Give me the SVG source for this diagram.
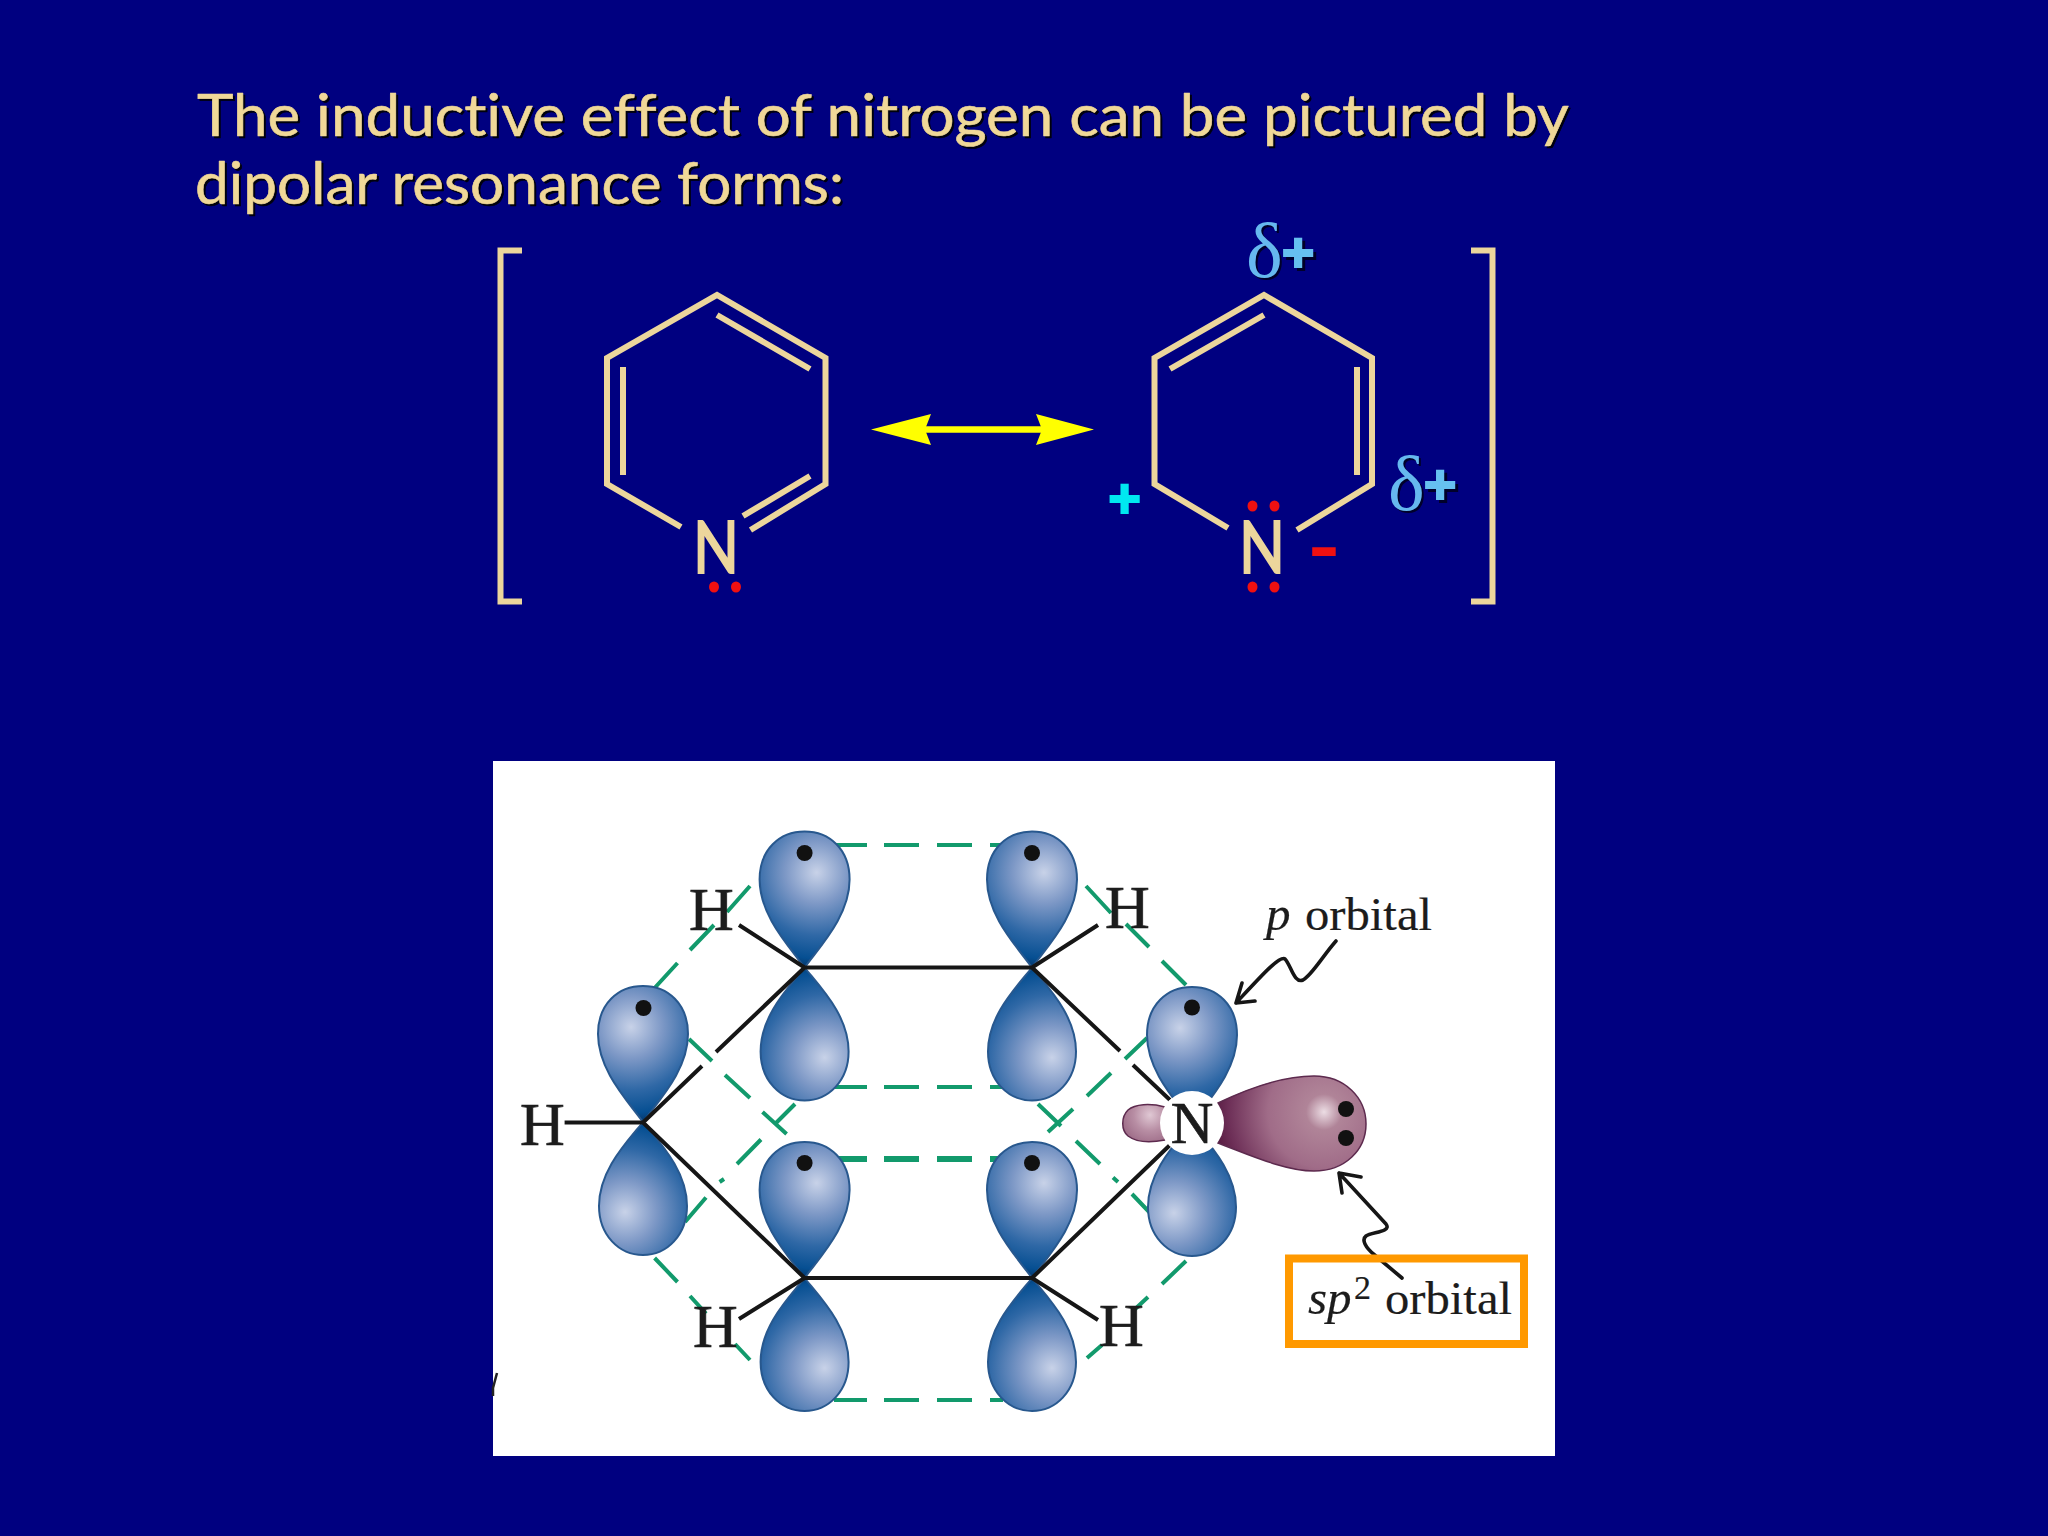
<svg xmlns="http://www.w3.org/2000/svg" xmlns:xlink="http://www.w3.org/1999/xlink" width="2048" height="1536" viewBox="0 0 2048 1536">
<style>
.ring{fill:none;stroke:#ecd69c;stroke-width:6;stroke-linecap:butt;stroke-linejoin:miter}
.title{font-family:"Lato","Noto Sans",sans-serif;font-size:58px;fill:#f0d898;stroke:#f0d898;stroke-width:.6;stroke-linejoin:round;font-variant-ligatures:none}
.tshadow{fill:#000;stroke:#000;opacity:.9}
.atom{font-family:"Lato","Liberation Sans",sans-serif;font-size:72px;fill:#ecd69c;stroke:#ecd69c;stroke-width:2}
.delta{font-family:"Liberation Serif",serif;font-size:78px;fill:#66b8ef}
.dshadow{fill:#00002a}
.plus{font-family:"Liberation Sans",sans-serif;font-weight:bold;font-size:56px;text-anchor:middle;stroke-width:2}
.lp{fill:#f01010}
.dash{fill:none;stroke:#129a6c;stroke-width:4}
.bond{fill:none;stroke:#161616;stroke-width:4}
.squig{fill:none;stroke:#161616;stroke-width:3.600;stroke-linecap:round;stroke-linejoin:round}
.el{fill:#111}
.lab{font-family:"Liberation Serif",serif;fill:#1c1c1c;stroke:#1c1c1c;stroke-width:.7}
.lobe{stroke:#28588e;stroke-width:2}
</style>
<defs>
<radialGradient id="upR" gradientUnits="userSpaceOnUse" cx="12" cy="-95" r="105"><stop offset="0" stop-color="#c8d2e8"/><stop offset=".3" stop-color="#7d98c6"/><stop offset=".6" stop-color="#2f68a6"/><stop offset=".82" stop-color="#064f92"/><stop offset="1" stop-color="#041f44"/></radialGradient>
<radialGradient id="upL" gradientUnits="userSpaceOnUse" cx="-12" cy="-95" r="105"><stop offset="0" stop-color="#c8d2e8"/><stop offset=".3" stop-color="#7d98c6"/><stop offset=".6" stop-color="#2f68a6"/><stop offset=".82" stop-color="#064f92"/><stop offset="1" stop-color="#041f44"/></radialGradient>
<radialGradient id="dnR" gradientUnits="userSpaceOnUse" cx="20" cy="90" r="105"><stop offset="0" stop-color="#c8d2e8"/><stop offset=".3" stop-color="#7d98c6"/><stop offset=".6" stop-color="#2f68a6"/><stop offset=".82" stop-color="#064f92"/><stop offset="1" stop-color="#041f44"/></radialGradient>
<radialGradient id="dnL" gradientUnits="userSpaceOnUse" cx="-18" cy="90" r="105"><stop offset="0" stop-color="#c8d2e8"/><stop offset=".3" stop-color="#7d98c6"/><stop offset=".6" stop-color="#2f68a6"/><stop offset=".82" stop-color="#064f92"/><stop offset="1" stop-color="#041f44"/></radialGradient>
<radialGradient id="big" gradientUnits="userSpaceOnUse" cx="1324" cy="1112" r="112"><stop offset="0" stop-color="#ecdde4"/><stop offset=".16" stop-color="#b08498"/><stop offset=".5" stop-color="#a06c88"/><stop offset=".85" stop-color="#6e3058"/><stop offset="1" stop-color="#55193f"/></radialGradient>
<radialGradient id="small" gradientUnits="userSpaceOnUse" cx="1150" cy="1115" r="32"><stop offset="0" stop-color="#e0c8d4"/><stop offset=".5" stop-color="#b88ea4"/><stop offset="1" stop-color="#9a6884"/></radialGradient>
<path id="up" class="lobe" d="M0,0C-16,-22 -45,-52 -45,-88C-45,-118 -25,-136 0,-136C25,-136 45,-118 45,-88C45,-52 16,-22 0,0Z"/>
<path id="dn" class="lobe" d="M0,0C16,20 44,48 44,84C44,113 24,133 0,133C-24,133 -44,113 -44,84C-44,48 -16,20 0,0Z"/>
</defs>
<rect id="background" width="2048" height="1536" fill="#000080"/>
<g id="title">
<text class="title tshadow" x="199" y="138" textLength="1372" lengthAdjust="spacingAndGlyphs">The inductive effect of nitrogen can be pictured by</text>
<text class="title tshadow" x="197" y="206" textLength="649" lengthAdjust="spacingAndGlyphs">dipolar resonance forms:</text>
<text class="title" x="197" y="135.500" textLength="1372" lengthAdjust="spacingAndGlyphs">The inductive effect of nitrogen can be pictured by</text>
<text class="title" x="195" y="203.500" textLength="649" lengthAdjust="spacingAndGlyphs">dipolar resonance forms:</text>
</g>
<g id="brackets">
<path class="ring" d="M522,250.500H500.500V601.500H522"/>
<path class="ring" d="M1471,250.500H1492.500V601.500H1471"/>
</g>
<g id="pyridine-left">
<path class="ring" d="M681,527L607,484V358L717,295L825.500,358V484L750.500,530"/>
<path class="ring" d="M717,315L810,369M623,367V475M810,476L743,516"/>
<text class="atom" x="693" y="573" textLength="46" lengthAdjust="spacingAndGlyphs">N</text>
<ellipse class="lp" cx="714" cy="587" rx="5" ry="5.500"/><ellipse class="lp" cx="736" cy="587" rx="5" ry="5.500"/>
</g>
<g id="resonance-arrow">
<path d="M925,429.500H1042" stroke="#ffff00" stroke-width="6.500" fill="none"/>
<path d="M871,429.500L931,414L925,429.500L931,445Z" fill="#ffff00"/>
<path d="M1094,429.500L1036,414L1042,429.500L1036,445Z" fill="#ffff00"/>
</g>
<g id="pyridine-right">
<path class="ring" d="M1228,528L1154.500,484V358L1264,295L1372,358V484L1297,530"/>
<path class="ring" d="M1264,315L1170,369M1357,367V475"/>
<text class="atom" x="1239" y="573" textLength="46" lengthAdjust="spacingAndGlyphs">N</text>
<ellipse class="lp" cx="1252.500" cy="506" rx="5" ry="5.500"/><ellipse class="lp" cx="1274.500" cy="506" rx="5" ry="5.500"/>
<ellipse class="lp" cx="1252.500" cy="587" rx="5" ry="5.500"/><ellipse class="lp" cx="1274.500" cy="587" rx="5" ry="5.500"/>
<text class="plus" x="1124.500" y="517" fill="#00e8f0" stroke="#00e8f0">+</text>
<text class="plus" x="1324" y="566" fill="#f01010" stroke="#f01010" textLength="27" lengthAdjust="spacingAndGlyphs">-</text>
</g>
<g id="delta-top">
<text class="delta dshadow" x="1248" y="279">δ</text>
<text class="plus dshadow" x="1301" y="274" stroke="#00002a">+</text>
<text class="delta" x="1246" y="277">δ</text>
<text class="plus" x="1298" y="271" fill="#66c0f0" stroke="#66c0f0">+</text>
</g>
<g id="delta-right">
<text class="delta dshadow" x="1390" y="512">δ</text>
<text class="plus dshadow" x="1443" y="506" stroke="#00002a">+</text>
<text class="delta" x="1388" y="510">δ</text>
<text class="plus" x="1440" y="503" fill="#66c0f0" stroke="#66c0f0">+</text>
</g>
<g id="orbital-panel">
<rect x="493" y="761" width="1062" height="695" fill="#fff"/>
<path d="M497,1373L493,1388V1396" fill="none" stroke="#222" stroke-width="2.500"/>
</g>
<g id="pi-overlap">
<path class="dash" d="M834,845H867M884,845H919M937,845H972M990,845H1003M834,1087H867M884,1087H919M937,1087H972M990,1087H1003M834,1400H867M884,1400H919M937,1400H972M990,1400H1003"/>
<path class="dash" style="stroke-width:6" d="M831,1159H867M884,1159H919M937,1159H972M990,1159H1006"/>
<path class="dash" d="M654.600,988L677.500,963M690,950L714,925M727,912L750,886M689,1039L712,1061M725,1075L750,1098M762.500,1112L786.600,1134M685,1222L706,1197.500M719.600,1182L724,1179M737,1164L761,1139.500M775,1124L795,1104M654.600,1258L677.500,1282M690,1296L706,1313.600M735,1344L750,1360"/>
<path class="dash" d="M1086,886L1111,913M1126,924L1149,947M1162,961L1186,985M1147,1038L1125,1059M1111,1073L1087,1096M1073,1109L1048,1132M1038,1104L1061,1126M1076,1141L1100,1164M1113,1177.500L1118,1182M1132,1194L1152,1215M1186,1261L1162,1284M1148,1297L1133,1311M1102,1345L1087,1358"/>
</g>
<g id="carbon-1"><use href="#up" x="643" y="1122" fill="url(#upL)"/><use href="#dn" x="643" y="1122" fill="url(#dnL)"/><circle class="el" cx="643.500" cy="1008" r="8"/></g>
<g id="carbon-2"><use href="#up" x="804.600" y="967.500" fill="url(#upR)"/><use href="#dn" x="804.600" y="967.500" fill="url(#dnR)"/><circle class="el" cx="804.600" cy="853" r="8"/></g>
<g id="carbon-3"><use href="#up" x="1032" y="967.500" fill="url(#upR)"/><use href="#dn" x="1032" y="967.500" fill="url(#dnR)"/><circle class="el" cx="1032" cy="853" r="8"/></g>
<g id="carbon-4"><use href="#up" x="804.600" y="1278" fill="url(#upR)"/><use href="#dn" x="804.600" y="1278" fill="url(#dnR)"/><circle class="el" cx="804.600" cy="1163" r="8"/></g>
<g id="carbon-5"><use href="#up" x="1032" y="1278" fill="url(#upR)"/><use href="#dn" x="1032" y="1278" fill="url(#dnR)"/><circle class="el" cx="1032" cy="1163" r="8"/></g>
<g id="sigma-bonds">
<path class="bond" d="M804.600,967.500H1032M804.600,1278H1032M564.600,1122.500H643M643,1122.500L702,1066M716,1052L804.600,967.500M643,1122.500L804.600,1278M739,925L804.600,967.500M739,1319L804.600,1278M1032,967.500L1098,925M1032,967.500L1120,1051M1133,1065L1170,1100M1032,1278L1170,1145M1032,1278L1098,1320"/>
</g>
<g id="nitrogen">
<use href="#up" x="1192" y="1123" fill="url(#upL)"/><use href="#dn" x="1192" y="1123" fill="url(#dnL)"/>
<circle class="el" cx="1192" cy="1007.500" r="8"/>
<path d="M1218,1103C1245,1090 1280,1076 1314,1076C1345,1076 1366,1098 1366,1124C1366,1150 1345,1171 1314,1171C1285,1171 1250,1155 1218,1143Q1226,1123 1218,1103Z" fill="url(#big)" stroke="#5d2a4e" stroke-width="1.500"/>
<path d="M1165,1107C1150,1103 1135,1104 1128,1110C1121,1117 1121,1130 1128,1136C1136,1142 1150,1143 1165,1140Z" fill="url(#small)" stroke="#5d2a4e" stroke-width="1.500"/>
<circle class="el" cx="1346" cy="1109" r="8"/><circle class="el" cx="1346" cy="1138" r="8"/>
<circle cx="1192" cy="1123" r="32" fill="#fff"/>
<text class="lab" x="1192" y="1143" font-size="59" text-anchor="middle">N</text>
</g>
<g id="hydrogens">
<text class="lab" x="520" y="1145" font-size="62">H</text>
<text class="lab" x="689" y="930" font-size="62">H</text>
<text class="lab" x="693" y="1347" font-size="62">H</text>
<text class="lab" x="1105" y="928" font-size="62">H</text>
<text class="lab" x="1099" y="1346" font-size="62">H</text>
</g>
<g id="p-label">
<path class="squig" d="M1336,941C1322,957 1312,975 1303,980C1294,984 1291,965 1285,959C1280,955 1262,975 1236,1003M1255,1001L1236,1003L1242,983"/>
<text class="lab" style="stroke-width:.2" x="1266" y="930" font-size="49" font-style="italic">p</text>
<text class="lab" style="stroke-width:.2" x="1305" y="930" font-size="47" textLength="127" lengthAdjust="spacingAndGlyphs">orbital</text>
</g>
<g id="sp2-label">
<path class="squig" d="M1402,1278L1374,1254.500C1366,1248 1361,1240 1366,1236C1372,1232 1392,1232 1386,1224L1339,1173M1361,1177L1339,1173L1342,1193"/>
<rect x="1289" y="1258.500" width="235" height="85.500" fill="none" stroke="#ff9900" stroke-width="8"/>
<text class="lab" style="stroke-width:.2" x="1308" y="1314" font-size="49" font-style="italic">sp</text>
<text class="lab" style="stroke-width:.2" x="1354" y="1299" font-size="34">2</text>
<text class="lab" style="stroke-width:.2" x="1385" y="1314" font-size="47" textLength="127" lengthAdjust="spacingAndGlyphs">orbital</text>
</g>
</svg>
